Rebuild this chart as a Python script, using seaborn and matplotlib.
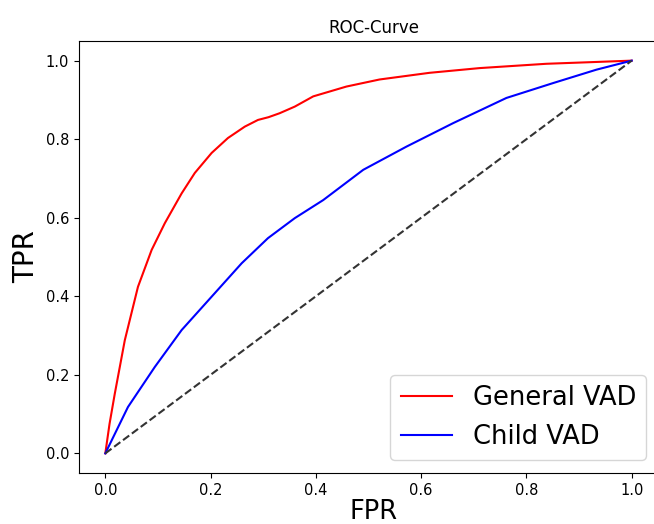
import matplotlib
matplotlib.use("Agg")
import matplotlib.pyplot as plt
import seaborn as sns
import pandas as pd

general_fpr = [0.0, 0.008, 0.018, 0.037, 0.062, 0.088, 0.113, 0.145, 0.170, 0.202, 0.233, 0.265,
               0.290, 0.310, 0.331, 0.360, 0.395, 0.458, 0.521, 0.616, 0.711, 0.838, 0.92, 1.0]
general_tpr = [0.0, 0.075, 0.152, 0.288, 0.424, 0.518, 0.586, 0.662, 0.714, 0.765, 0.803, 0.832,
               0.849, 0.856, 0.866, 0.883, 0.909, 0.934, 0.952, 0.969, 0.981, 0.992, 0.996, 1.0]

child_fpr = [0.0, 0.043, 0.094, 0.145, 0.202, 0.259, 0.309, 0.360, 0.414, 0.490, 0.572,
             0.661, 0.762, 0.851, 0.933, 1.0]
child_tpr = [0.0, 0.118, 0.220, 0.314, 0.399, 0.484, 0.548, 0.599, 0.645, 0.722, 0.781,
             0.841, 0.905, 0.943, 0.977, 1.0]

diag = [0.0, 1.0]

fig = plt.figure(figsize=(6.54, 5.24), dpi=100)
ax = fig.add_axes([79/654, 51/524, 590/654, 432/524])

df_g = pd.DataFrame({"FPR": general_fpr, "TPR": general_tpr})
df_c = pd.DataFrame({"FPR": child_fpr, "TPR": child_tpr})
sns.lineplot(data=df_g, x="FPR", y="TPR", sort=False, color="red", lw=1.5, label="General VAD", ax=ax)
sns.lineplot(data=df_c, x="FPR", y="TPR", sort=False, color="blue", lw=1.5, label="Child VAD", ax=ax)
ax.plot(diag, diag, linestyle="--", color="#333333", lw=1.5)

ax.set_xlim(-0.05, 1.05 + 11/527)
ax.set_ylim(-0.05, 1.05)
ax.set_xticks([0.0, 0.2, 0.4, 0.6, 0.8, 1.0])
ax.set_yticks([0.0, 0.2, 0.4, 0.6, 0.8, 1.0])
ax.tick_params(labelsize=10.5)
ax.set_title("ROC-Curve", fontsize=12)
ax.set_xlabel("FPR", fontsize=18.5, labelpad=1)
ax.set_ylabel("TPR", fontsize=20)
leg = ax.legend(loc="lower right", fontsize=18.5, bbox_to_anchor=(1.0 - 10/590, 0.0))

fig.savefig("out.png", dpi=100)
